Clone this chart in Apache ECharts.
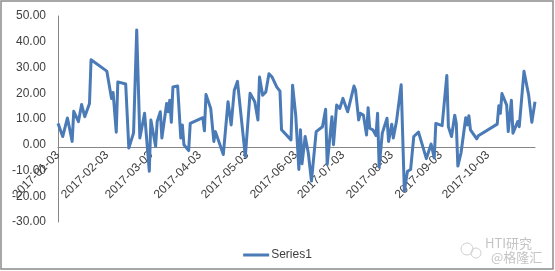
<!DOCTYPE html>
<html>
<head>
<meta charset="utf-8">
<script src="https://cdn.jsdelivr.net/npm/echarts@6/dist/echarts.min.js"></script>
<style>html,body{margin:0;padding:0;background:#fff}#c{width:555px;height:271px}</style>
</head>
<body>
<div id="c"></div>
<script>
const seriesName = 'Series1';
const dates = [
'2017-01-03','2017-01-06','2017-01-09','2017-01-12','2017-01-13','2017-01-16','2017-01-18','2017-01-20','2017-01-23','2017-01-24',
'2017-02-03','2017-02-06','2017-02-07','2017-02-09','2017-02-10','2017-02-15','2017-02-17','2017-02-20','2017-02-22','2017-02-24','2017-02-27',
'2017-03-02','2017-03-03','2017-03-06','2017-03-07','2017-03-09','2017-03-10','2017-03-13','2017-03-14','2017-03-15','2017-03-16','2017-03-17','2017-03-20','2017-03-21','2017-03-22','2017-03-23','2017-03-24','2017-03-27','2017-03-28',
'2017-04-05','2017-04-06','2017-04-07','2017-04-10','2017-04-12','2017-04-13','2017-04-18','2017-04-21','2017-04-23','2017-04-25','2017-04-27',
'2017-05-02','2017-05-05','2017-05-08','2017-05-10','2017-05-11','2017-05-13','2017-05-15','2017-05-17','2017-05-19','2017-05-22','2017-05-24','2017-05-25','2017-05-31',
'2017-06-01','2017-06-03','2017-06-05','2017-06-06','2017-06-07','2017-06-09','2017-06-11','2017-06-13','2017-06-16','2017-06-20','2017-06-22','2017-06-23','2017-06-26','2017-06-27','2017-06-29',
'2017-07-01','2017-07-03','2017-07-06','2017-07-10','2017-07-11','2017-07-13','2017-07-14','2017-07-16','2017-07-18','2017-07-19','2017-07-20','2017-07-22','2017-07-24','2017-07-25','2017-07-26','2017-07-28','2017-07-31',
'2017-08-01','2017-08-03','2017-08-04','2017-08-06','2017-08-09','2017-08-11','2017-08-13','2017-08-15','2017-08-17','2017-08-20','2017-08-25','2017-08-28','2017-08-29','2017-08-30','2017-08-31',
'2017-09-04','2017-09-07','2017-09-08','2017-09-10','2017-09-12','2017-09-13','2017-09-14','2017-09-16','2017-09-19','2017-09-20','2017-09-21','2017-09-22','2017-09-26','2017-09-27',
'2017-10-09','2017-10-10','2017-10-11','2017-10-12','2017-10-15','2017-10-16','2017-10-18','2017-10-19','2017-10-22','2017-10-23','2017-10-26','2017-10-29','2017-10-31',
'2017-11-02'
];
const values = [
8.3,3.2,10.4,1.3,13,9,15.6,10.9,16,33,
28.6,18,20.3,4.9,24.4,23.6,-1.3,4.6,44.6,2.6,12.2,
-10.3,9.6,-0.6,9,12.8,2.6,16,12.8,17.3,8.7,22.4,22.8,23.5,2.6,7.7,0,-2.3,8.3,
10.5,5.4,19.5,14.1,1.3,5.1,-3.8,16.7,7.7,21.2,24.6,
-4.5,20,16.7,9.6,26.3,19.2,20.5,27.6,26.3,22.4,20.8,5.8,1.9,
23.1,11.5,-9.6,5.8,-7.4,3.2,-3.2,-14.1,5.1,7,13.8,-7.7,10.9,0,15.4,
14.1,18,12.8,22.8,21.2,9.6,12.2,11.5,3.8,14.4,6.4,5.8,3.6,12.2,-8.7,4.5,10.3,
1.3,8,2.6,9,23.3,-18,-10.3,-9.6,3.2,4.9,-5.4,0.3,0.6,-5.1,8.3,
7.4,26.9,7,3.2,11.5,8.3,-8.3,-3.2,10.5,7.7,11.3,5.8,2.3,3.5,
8,15.1,12.2,19.9,15.4,5.1,17.3,4.5,9,7,28.5,19.2,8.7,
16.7
];
const tickDates = ['2017-01-03','2017-02-03','2017-03-03','2017-04-03','2017-05-03','2017-06-03','2017-07-03','2017-08-03','2017-09-03','2017-10-03'];
const axisStart = '2017-01-03';
const axisEnd = '2017-11-02';
const yMin = -30, yMax = 50, yStep = 10;

function ts(s){const p=s.split('-').map(Number);return Date.UTC(p[0],p[1]-1,p[2]);}
function fmt(t){const d=new Date(t);const pad=n=>(n<10?'0':'')+n;return d.getUTCFullYear()+'-'+pad(d.getUTCMonth()+1)+'-'+pad(d.getUTCDate());}

const chart = echarts.init(document.getElementById('c'), null, {renderer:'canvas'});
const font = '"Liberation Sans", Arial, sans-serif';
const option = {
  animation:false,
  backgroundColor:'#ffffff',
  grid:{left:58,right:20,top:16,bottom:49,containLabel:false},
  legend:{
    data:[{name:seriesName,icon:'rect'}],
    left:'center', top:244,
    itemWidth:26, itemHeight:3, itemGap:10,
    textStyle:{fontFamily:font,fontSize:12,color:'#404040',padding:[0,0,0,-3]}
  },
  xAxis:{
    type:'value',
    min:ts(axisStart), max:ts(axisEnd),
    axisLine:{onZero:false,lineStyle:{color:'#868686',width:1}},
    axisTick:{show:false},
    splitLine:{show:false},
    axisLabel:{
      customValues:tickDates.map(ts),
      rotate:45, margin:6,
      fontFamily:font, fontSize:12, color:'#404040',
      formatter:function(v){return fmt(v);}
    }
  },
  yAxis:{
    type:'value', min:yMin, max:yMax, interval:yStep,
    axisLine:{show:true,onZero:false,lineStyle:{color:'#868686',width:1}},
    axisTick:{show:false},
    splitLine:{show:false},
    axisLabel:{margin:12,fontFamily:font,fontSize:12,color:'#404040',formatter:function(v){return v.toFixed(2);}}
  },
  series:[{
    name:seriesName, type:'line',
    data:dates.map((d,i)=>[ts(d),values[i]]),
    showSymbol:false, symbol:'none',
    lineStyle:{color:'#4a7bb7',width:3,join:'round'},
    itemStyle:{color:'#4a7bb7'}
  }],
  graphic:[
    {type:'rect',shape:{x:1,y:1,width:552,height:268},style:{fill:null,stroke:'#8a8a8a',lineWidth:1.5},silent:true},
    {type:'circle',shape:{cx:467,cy:249,r:6},style:{fill:null,stroke:'#d0d0d0',lineWidth:1}},
    {type:'circle',shape:{cx:476,cy:253,r:5},style:{fill:null,stroke:'#d0d0d0',lineWidth:1}},
    {type:'text',left:485,top:237,style:{text:'HTI研究',font:'13px "Noto Sans CJK SC", sans-serif',fill:'#c4c4c4'}},
    {type:'text',left:491,top:251,style:{text:'@格隆汇',font:'13px "Noto Sans CJK SC", sans-serif',fill:'#c4c4c4'}}
  ]
};
chart.setOption(option);
// Move the category axis up to the y = 0 line, measured from the y scale.
const zeroY = chart.convertToPixel({yAxisIndex:0}, 0);
const bottomY = chart.convertToPixel({yAxisIndex:0}, yMin);
chart.setOption({xAxis:{offset:-(bottomY-zeroY)}});
</script>
</body>
</html>
